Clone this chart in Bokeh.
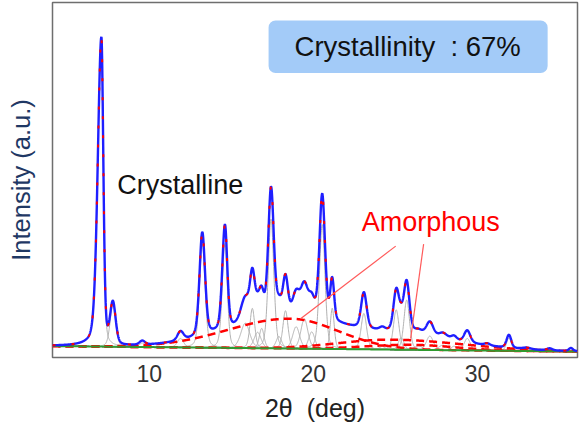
import numpy as np
from bokeh.plotting import figure
from bokeh.models import Range1d, FixedTicker, Label, BoxAnnotation
from bokeh.embed import file_html
from bokeh.resources import INLINE

# ---- data (2theta in degrees, intensity in a.u.) ----
peak_pos = [7.08, 7.78, 9.57, 11.9, 13.23, 14.61, 15.85, 16.28, 16.6, 16.85,
            17.42, 17.9, 18.3, 18.95, 19.45, 19.9, 20.54, 21.15, 23.08,
            24.2, 25.05, 25.35, 25.69, 26.4, 27.1, 27.9, 28.57, 29.38, 30.6,
            31.92, 33.0, 34.4, 35.7]
peak_height = [310, 42, 4, 9, 104, 105, 25, 40, 16, 20,
               130, 12, 38, 22, 30, 17, 125, 41, 36,
               3, 40, 12, 50, 4, 14, 5, 4, 12, 2,
               13, 1.5, 2, 3]
peak_hwhm_left = [0.26, 0.2, 0.2, 0.22, 0.2, 0.19, 0.32, 0.17, 0.25, 0.17,
                  0.2, 0.2, 0.18, 0.25, 0.25, 0.22, 0.2, 0.14, 0.2,
                  0.2, 0.2, 0.2, 0.2, 0.3, 0.25, 0.3, 0.2, 0.22, 0.2,
                  0.17, 0.3, 0.2, 0.15]
peak_hwhm_right = [0.14, 0.2, 0.2, 0.22, 0.2, 0.17, 0.32, 0.17, 0.25, 0.17,
                   0.2, 0.2, 0.18, 0.25, 0.25, 0.22, 0.2, 0.14, 0.2,
                   0.2, 0.2, 0.2, 0.2, 0.3, 0.25, 0.3, 0.2, 0.22, 0.2,
                   0.17, 0.3, 0.2, 0.15]
lorentz_fraction = 0.3

amorph_center = [18.6, 24.8, 26.0]
amorph_height = [30, 10, 5]
amorph_sigma_left = [3.8, 3.2, 2.8]
amorph_sigma_right = [2.9, 4.3, 2.6]

baseline_x = [4.1, 36.1]
baseline_y = [11.5, 6.0]

x_ticks = [10, 20, 30]

# leader lines from the "Amorphous" label to the halos
leader1_x = [25.02, 19.22]
leader1_y = [112, 39]
leader2_x = [26.72, 25.93]
leader2_y = [114, 19]

# ---- build profiles ----
x = np.linspace(4.1, 36.1, 3201)
base = np.interp(x, baseline_x, baseline_y)


def pseudo_voigt(xx, c, h, wl, wr, eta):
    w = np.where(xx < c, wl, wr)
    t = ((xx - c) / w) ** 2
    return h * (eta / (1 + t) + (1 - eta) * np.exp(-np.log(2) * t))


def split_gauss(xx, c, h, sl, sr):
    s = np.where(xx < c, sl, sr)
    return h * np.exp(-((xx - c) ** 2) / (2 * s ** 2))


cryst = [pseudo_voigt(x, c, h, wl, wr, lorentz_fraction)
         for c, h, wl, wr in zip(peak_pos, peak_height, peak_hwhm_left, peak_hwhm_right)]
amorph = [split_gauss(x, c, h, sl, sr)
          for c, h, sl, sr in zip(amorph_center, amorph_height, amorph_sigma_left, amorph_sigma_right)]
total = base + np.sum(cryst, axis=0) + np.sum(amorph, axis=0)

# ---- figure ----
p = figure(width=580, height=424, x_range=Range1d(4.1, 36.1), y_range=Range1d(0, 357),
           output_backend="svg", toolbar_location=None,
           min_border_left=52, min_border_right=3, min_border_top=2, min_border_bottom=65)
p.background_fill_color = "white"
p.border_fill_color = "white"
p.xgrid.visible = False
p.ygrid.visible = False
p.outline_line_color = "#6e6e6e"
p.outline_line_width = 1.5

xa = p.xaxis[0]
xa.ticker = FixedTicker(ticks=x_ticks)
xa.major_tick_out = 0
xa.major_tick_in = 0
xa.minor_tick_out = 0
xa.minor_tick_in = 0
xa.axis_line_color = None
xa.major_label_text_font = "Liberation Sans"
xa.major_label_text_font_size = "23px"
xa.major_label_text_color = "#333333"
xa.major_label_standoff = 7
xa.axis_label = "2θ\u00a0 (deg)"
xa.axis_label_text_font = "Liberation Sans"
xa.axis_label_text_font_size = "25px"
xa.axis_label_text_font_style = "normal"
xa.axis_label_text_color = "#222222"
xa.axis_label_standoff = 9

ya = p.yaxis[0]
ya.ticker = FixedTicker(ticks=[])
ya.major_tick_out = 0
ya.major_tick_in = 0
ya.minor_tick_out = 0
ya.minor_tick_in = 0
ya.axis_line_color = None
ya.axis_label = "Intensity (a.u.)"
ya.axis_label_text_font = "Liberation Sans"
ya.axis_label_text_font_size = "25.5px"
ya.axis_label_text_font_style = "normal"
ya.axis_label_text_color = "#1f3864"
ya.axis_label_standoff = 18

# crystalline peak components
for comp in cryst:
    p.line(x, base + comp, line_color="#b0b0b0", line_width=1)

# amorphous halos
for comp in amorph:
    p.line(x, base + comp, line_color="#ff0000", line_width=2.5, line_dash="8 5")

# baseline
p.line(x, base, line_color="#2f9a2f", line_width=2)

# observed profile and fit
p.line(x, total, line_color="#1f1fff", line_width=2.4)
p.line(x, total, line_color="#ff0000", line_width=2, line_dash="3 16")

# leader lines
p.line(leader1_x, leader1_y, line_color="#ff5a5a", line_width=1.2)
p.line(leader2_x, leader2_y, line_color="#ff5a5a", line_width=1.2)

# crystallinity box
p.add_layout(BoxAnnotation(left=17.27, right=34.28, bottom=286, top=339,
                           fill_color="#a3cbf8", fill_alpha=1, line_color=None,
                           border_radius=7))
p.add_layout(Label(x=25.75, y=313, text="Crystallinity\u00a0 : 67%", text_align="center",
                   text_baseline="middle", text_font="Liberation Sans",
                   text_font_size="27.5px", text_color="#111111"))
p.add_layout(Label(x=8.05, y=173, text="Crystalline", text_align="left",
                   text_baseline="middle", text_font="Liberation Sans",
                   text_font_size="27px", text_color="#111111"))
p.add_layout(Label(x=22.95, y=136, text="Amorphous", text_align="left",
                   text_baseline="middle", text_font="Liberation Sans",
                   text_font_size="27px", text_color="#ff0000"))

open("out.html", "w").write(file_html(p, INLINE))
